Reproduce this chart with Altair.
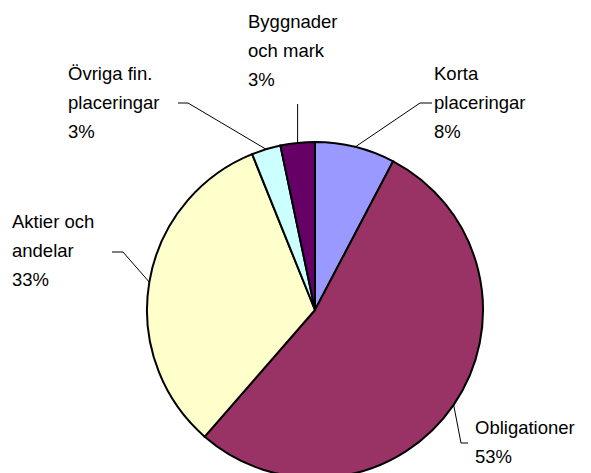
import math
import altair as alt
import pandas as pd

# ---- data ----
categories = ["Korta placeringar", "Obligationer", "Aktier och andelar",
              "Övriga fin. placeringar", "Byggnader och mark"]
shares = [7.7, 53.7, 32.5, 2.8, 3.3]
pct_labels = ["8%", "53%", "33%", "3%", "3%"]
name_lines = [["Korta", "placeringar"], ["Obligationer"], ["Aktier och", "andelar"],
              ["Övriga fin.", "placeringar"], ["Byggnader", "och mark"]]
colors = ["#9999FF", "#993366", "#FFFFCC", "#CCFFFF", "#660066"]

# ---- layout (pixels inside the chart) ----
W, H = 575, 465
CX, CY, R = 307, 302, 168
LINE_H = 29
label_pos = [(426, 66), (467, 420), (4, 214), (60, 66), (240, 14)]  # left x, first-line y
leader_mid = [(412, 95), (453, 435), (115, 244), (180, 95), (None, 96)]
leader_end = [(424, 95), (460, 435), (104, 244), (170, 95), (None, 96)]

# ---- build tables ----
pie = pd.DataFrame({"cat": categories, "share": shares, "idx": range(len(categories))})

total = sum(shares)
cum = 0.0
lead_rows, text_rows = [], []
for i, s in enumerate(shares):
    mid = (cum + s / 2) / total * 2 * math.pi
    cum += s
    ex, ey = CX + R * math.sin(mid), CY - R * math.cos(mid)
    mx, my = leader_mid[i]
    nx, ny = leader_end[i]
    if mx is None:
        mx, nx = ex, ex
    for k, (px, py) in enumerate([(ex, ey), (mx, my), (nx, ny)]):
        lead_rows.append({"cat": categories[i], "step": k, "x": px, "y": py})
    lines = name_lines[i] + [pct_labels[i]]
    lx, ly = label_pos[i]
    for j, t in enumerate(lines):
        text_rows.append({"cat": categories[i], "x": lx, "y": ly + j * LINE_H, "t": t})

leads = pd.DataFrame(lead_rows)
texts = pd.DataFrame(text_rows)

xs = alt.Scale(domain=[0, W], nice=False, zero=False)
ys = alt.Scale(domain=[0, H], nice=False, zero=False, reverse=True)

arcs = alt.Chart(pie).mark_arc(outerRadius=R, stroke="black", strokeWidth=2).encode(
    theta=alt.Theta("share:Q", stack=True),
    order=alt.Order("idx:Q"),
    color=alt.Color("cat:N", scale=alt.Scale(domain=categories, range=colors), legend=None),
    x=alt.value(CX),
    y=alt.value(CY),
)

lines_layer = alt.Chart(leads).mark_line(color="black", strokeWidth=1).encode(
    x=alt.X("x:Q", scale=xs, axis=None),
    y=alt.Y("y:Q", scale=ys, axis=None),
    detail="cat:N",
    order="step:Q",
)

text_layer = alt.Chart(texts).mark_text(
    align="left", baseline="middle", font="Liberation Sans", fontSize=18.5, color="black"
).encode(
    x=alt.X("x:Q", scale=xs, axis=None),
    y=alt.Y("y:Q", scale=ys, axis=None),
    text="t:N",
)

chart = alt.layer(arcs, lines_layer, text_layer).properties(
    width=W, height=H, padding=0
).configure_view(strokeWidth=0)

chart.save("out.html", embed_options={"renderer": "svg", "actions": False})
